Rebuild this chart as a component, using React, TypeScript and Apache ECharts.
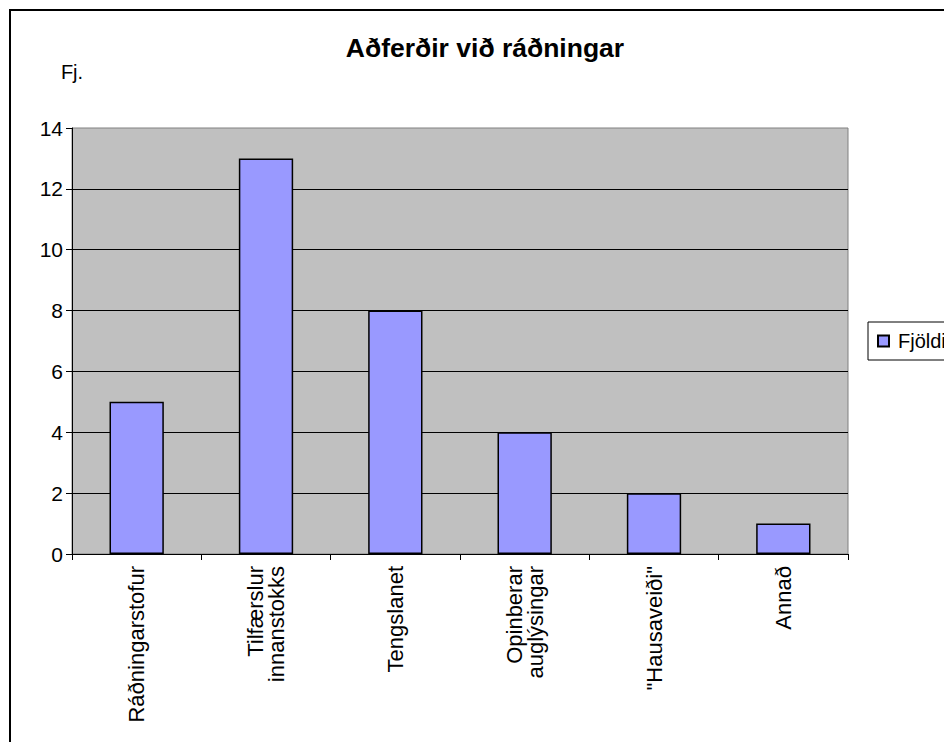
import React, { useEffect, useRef } from "react";
import * as echarts from "echarts";

const categories = [
  "Ráðningarstofur",
  "Tilfærslur\ninnanstokks",
  "Tengslanet",
  "Opinberar\nauglýsingar",
  "\"Hausaveiði\"",
  "Annað",
];
const values = [5, 13, 8, 4, 2, 1];
const seriesName = "Fjöldi";
const titleText = "Aðferðir við ráðningar";
const yAxisName = "Fj.";

const FONT = "'Liberation Sans', Arial, sans-serif";

export default function App() {
  const ref = useRef<HTMLDivElement>(null);
  useEffect(() => {
    if (!ref.current) return;
    const chart = echarts.init(ref.current, null, { renderer: "svg" });
    chart.setOption({
      animation: false,
      backgroundColor: "#ffffff",
      textStyle: { fontFamily: FONT, color: "#000" },
      graphic: [
        {
          type: "rect",
          z: 0,
          shape: { x: 10, y: 10, width: 1000, height: 800 },
          style: { fill: "none", stroke: "#000", lineWidth: 2 },
        },
        {
          type: "text",
          z: 10,
          x: 485,
          y: 48,
          style: {
            text: titleText,
            fontFamily: FONT,
            fontSize: 26.5,
            fontWeight: "bold",
            fill: "#000",
            align: "center",
            verticalAlign: "middle",
          },
        },
      ],
      legend: {
        orient: "vertical",
        left: 868,
        top: 322,
        padding: [9, 24, 9, 9],
        borderColor: "#000",
        borderWidth: 1,
        backgroundColor: "#fff",
        itemWidth: 11,
        itemHeight: 11,
        icon: "rect",
        textStyle: { fontFamily: FONT, fontSize: 20, color: "#000", padding: [0, 0, 0, 4] },
        data: [seriesName],
      },
      grid: {
        left: 72,
        top: 128,
        right: 96,
        bottom: 188,
        show: true,
        backgroundColor: "#C0C0C0",
        borderColor: "#808080",
        borderWidth: 1,
      },
      xAxis: {
        type: "category",
        data: categories,
        axisLine: { show: true, lineStyle: { color: "#000", width: 1 } },
        axisTick: { show: true, length: 6, alignWithLabel: false, lineStyle: { color: "#000" } },
        axisLabel: {
          interval: 0,
          rotate: 90,
          margin: 12,
          fontFamily: FONT,
          fontSize: 22,
          lineHeight: 21,
          color: "#000",
        },
        splitLine: { show: false },
      },
      yAxis: {
        type: "value",
        min: 0,
        max: 14,
        interval: 2,
        name: yAxisName,
        nameLocation: "end",
        nameGap: 46,
        nameTextStyle: { fontFamily: FONT, fontSize: 20, color: "#000", align: "center" },
        axisLine: { show: true, lineStyle: { color: "#000", width: 1 } },
        axisTick: { show: true, length: 6, lineStyle: { color: "#000" } },
        axisLabel: { margin: 9, fontFamily: FONT, fontSize: 21, color: "#000" },
        splitLine: {
          show: true,
          showMinLine: false,
          showMaxLine: false,
          lineStyle: { color: "#000", width: 1 },
        },
      },
      series: [
        {
          name: seriesName,
          type: "bar",
          data: values,
          barWidth: "42%",
          itemStyle: { color: "#9999FF", borderColor: "#000", borderWidth: 1.5 },
        },
      ],
    });
    return () => chart.dispose();
  }, []);
  return (
    <div
      ref={ref}
      style={{ position: "absolute", left: 0, top: 0, width: 944, height: 742 }}
    />
  );
}
